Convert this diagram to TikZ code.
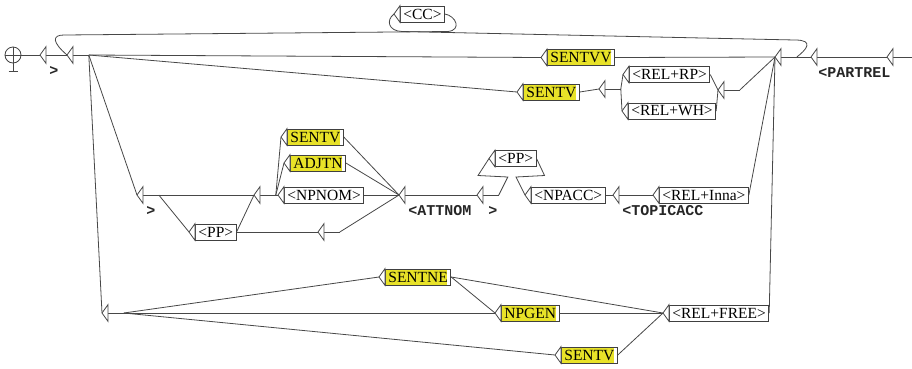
\documentclass[tikz,border=0pt]{standalone}
\usepackage{fontspec}
\setmainfont{Liberation Serif}
\newfontfamily\outfont{Liberation Mono}
\usetikzlibrary{calc}
\definecolor{subgraph}{RGB}{232,226,40}

\begin{document}
\begin{tikzpicture}[
    x=1pt, y=-1pt, line width=0.8pt,
    box/.style={draw=black!75, anchor=west, minimum height=16pt, inner xsep=3pt, inner ysep=0pt, font=\fontsize{15.5}{15.5}\selectfont},
    subbox/.style={box, path picture={\fill[subgraph] (path picture bounding box.south west) rectangle ([xshift=-3.5pt]path picture bounding box.north east);}},
    eps/.style={anchor=west, minimum width=15pt, minimum height=16pt, inner sep=0pt},
    outtext/.style={anchor=base west, inner sep=0pt, font=\outfont\bfseries\fontsize{15}{15}\selectfont, text=black!85},
    link/.style={draw=black!72},
    tri/.style={draw=black!72, fill=white}
]
\useasboundingbox (0,0) rectangle (912,368);

% Initial state
\node[draw=black!75, circle, minimum size=16pt, inner sep=0pt] (init) at (13,55) {};
\draw[link] (init.west) -- (init.east);
\draw[link] (init.north) -- ++(0,25) coordinate (foot);
\draw[link] ([xshift=-4.5pt]foot) -- ([xshift=4.5pt]foot);

% Empty boxes
\node[eps] (a) at (46,55) {};
\node[eps] (b) at (73,55) {};
\node[eps] (j) at (781,57) {};
\node[eps] (k) at (817,57) {};
\node[eps] (l) at (893,57) {};
\node[eps] (n1) at (605,89) {};
\node[eps] (n2) at (724,90) {};
\node[eps] (d) at (143,195) {};
\node[eps] (e) at (260,195) {};
\node[eps] (f) at (324,232) {};
\node[eps] (g) at (405,195) {};
\node[eps] (h) at (483,195) {};
\node[eps] (i) at (619,195) {};
\node[eps] (c) at (108,313) {};
\coordinate (fin) at (912,57);

% Boxes
\node[box] (cc) at (400,14) {<CC>};
\node[subbox] (sentvv) at (547,57.5) {SENTVV};
\node[subbox] (sentvi) at (523,92) {SENTV};
\node[box] (relrp) at (629,74.5) {<REL+RP>};
\node[box] (relwh) at (628,111) {<REL+WH>};
\node[subbox] (sentvii) at (287,137) {SENTV};
\node[subbox] (adjtn) at (290,163) {ADJTN};
\node[box] (npnom) at (284,195) {<NPNOM>};
\node[box] (ppi) at (195,232) {<PP>};
\node[box] (ppii) at (495,158.5) {<PP>};
\node[box] (npacc) at (531,195) {<NPACC>};
\node[box] (relinna) at (659,195) {<REL+Inna>};
\node[subbox] (sentne) at (385,277) {SENTNE};
\node[subbox] (npgen) at (501,313) {NPGEN};
\node[subbox] (sentviii) at (561,355) {SENTV};
\node[box] (relfree) at (669,313) {<REL+FREE>};

% Outputs
\node[outtext] (outa) at ([xshift=3pt, yshift=-12pt]a.south west) {>};
\node[outtext] (outd) at ([xshift=3pt, yshift=-12pt]d.south west) {>};
\node[outtext] (outg) at ([xshift=3pt, yshift=-12pt]g.south west) {<ATTNOM};
\node[outtext] (outh) at ([xshift=5pt, yshift=-12pt]h.south west) {>};
\node[outtext] (outi) at ([xshift=3pt, yshift=-12pt]i.south west) {<TOPICACC};
\node[outtext] (outk) at ([xshift=1pt, yshift=-12pt]k.south west) {<PARTREL};

% Input points
\foreach \n in {a, b, c, d, e, f, g, h, i, j, k, l, n1, n2, cc, sentvv, sentvi, relrp, relwh, sentvii, adjtn, npnom, ppi, ppii, npacc, relinna, sentne, npgen, sentviii, relfree}
  \coordinate (\n-in) at ([xshift=-6pt]\n.west);

% Through the empty boxes
\foreach \n in {a, b, c, d, e, f, g, h, i, j, k, l, n1, n2}
  \draw[link] (\n.west) -- (\n.east);

% Main line
\draw[link] (init.east) -- (a-in);
\draw[link] (a.east) -- (b-in);
\draw[link] (b.east) -- (sentvv-in);
\draw[link] (sentvv.east) -- (j-in);
\draw[link] (j.east) -- (k-in);
\draw[link] (k.east) -- (l-in);
\draw[link] (l.east) -- (fin);

% Loop through <CC>
\draw[link] (j.east) .. controls (806,50) and (815,40) .. (795,40) -- (402,31.5) .. controls (388,31) and (386,20) .. (cc-in);
\draw[link] (cc.east) .. controls (456,16) and (462,30) .. (448,31.5) -- (64,35) .. controls (52,35) and (52,42) .. (b-in);

% Relatives
\draw[link] (b.east) -- (sentvi-in);
\draw[link] (sentvi.east) -- (n1-in);
\draw[link] (n1.east) -- (relrp-in);
\draw[link] (n1.east) -- (relwh-in);
\draw[link] (relrp.east) -- (n2-in);
\draw[link] (relwh.east) -- (n2-in);
\draw[link] (n2.east) -- (j-in);

% Attributes
\draw[link] (b.east) -- (d-in);
\draw[link] (d.east) -- (e-in);
\draw[link] (d.east) -- (ppi-in);
\draw[link] (ppi.east) -- (e-in);
\draw[link] (ppi.east) -- (f-in);
\draw[link] (f.east) -- (g-in);
\foreach \n in {sentvii, adjtn, npnom} {
  \draw[link] (e.east) -- (\n-in);
  \draw[link] (\n.east) -- (g-in);
}
\draw[link] (g.east) -- (h-in);
\draw[link] (h.east) -- ++(9,-18) -- ($(ppii-in)+(-11,17)$) -- (ppii-in);
\draw[link] (ppii.east) -- ++(8,17) -- ($(npacc-in)+(-9,-18)$) -- (npacc-in);
\draw[link] (npacc.east) -- (i-in);
\draw[link] (i.east) -- (relinna-in);
\draw[link] (relinna.east) -- (j-in);

% Free relatives
\draw[link] (b.east) -- (c-in);
\draw[link] (c.east) -- (sentne-in);
\draw[link] (c.east) -- (npgen-in);
\draw[link] (c.east) -- (sentviii-in);
\draw[link] (sentne.east) -- (npgen-in);
\draw[link] (sentne.east) -- (relfree-in);
\draw[link] (npgen.east) -- (relfree-in);
\draw[link] (sentviii.east) -- (relfree-in);
\draw[link] (relfree.east) -- (j-in);

% Triangles
\foreach \n in {a, b, c, d, e, f, g, h, i, j, k, l, n1, n2, cc, sentvv, sentvi, relrp, relwh, sentvii, adjtn, npnom, ppi, ppii, npacc, relinna, sentne, npgen, sentviii, relfree}
  \draw[tri] (\n.north west) -- (\n-in) -- (\n.south west) -- cycle;

\end{tikzpicture}
\end{document}
